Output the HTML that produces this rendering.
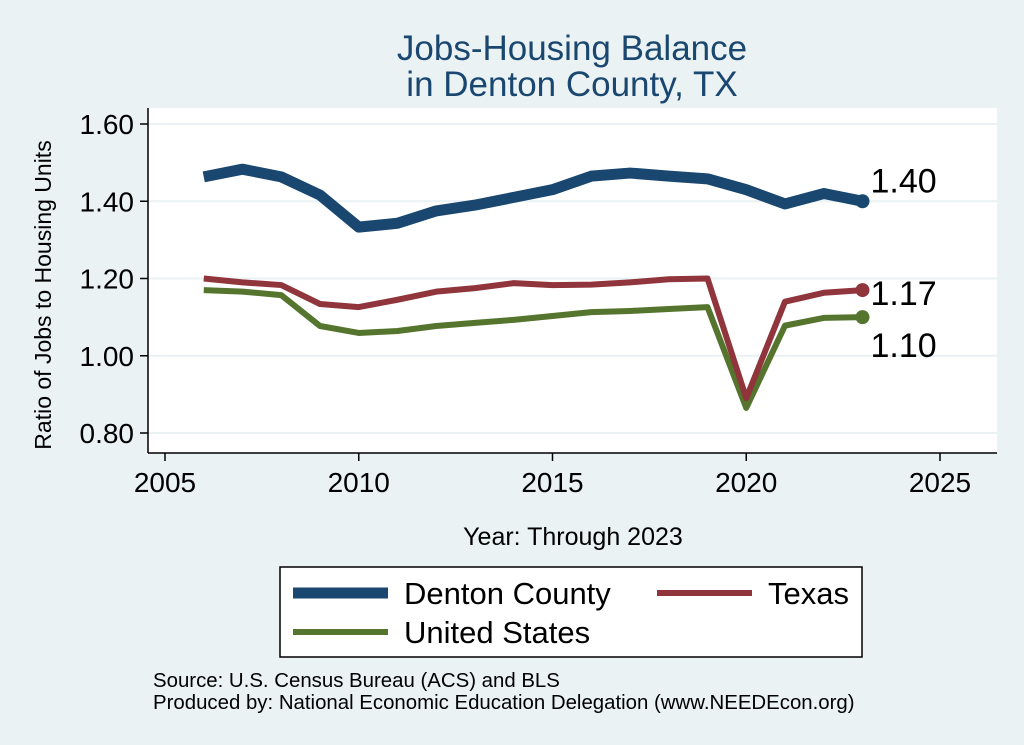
<!DOCTYPE html>
<html><head><meta charset="utf-8"><style>
body{margin:0;background:#eaf2f3;}
svg{display:block;font-family:"Liberation Sans",Arial,sans-serif;}
</style></head><body>
<svg width="1024" height="745" viewBox="0 0 1024 745">
<rect width="1024" height="745" fill="#eaf2f3"/>
<text x="572" y="60" font-size="35" fill="#1a476f" text-anchor="middle">Jobs-Housing Balance</text>
<text x="572" y="96" font-size="35" fill="#1a476f" text-anchor="middle">in Denton County, TX</text>
<rect x="148" y="108" width="849" height="345" fill="#fff"/>
<g id="grid"></g>
<g id="axes"></g>
<g id="series"></g>
<text x="573" y="545" font-size="25" text-anchor="middle">Year: Through 2023</text>
<text transform="translate(51,295) rotate(-90)" font-size="23" text-anchor="middle">Ratio of Jobs to Housing Units</text>
<g>
<rect x="280" y="567" width="582" height="90" fill="#fff" stroke="#000" stroke-width="1.5"/>
<line x1="293" y1="593" x2="388" y2="593" stroke="#1a476f" stroke-width="11"/>
<text x="404" y="604" font-size="31">Denton County</text>
<line x1="657" y1="593" x2="752" y2="593" stroke="#90353b" stroke-width="6"/>
<text x="768" y="604" font-size="31">Texas</text>
<line x1="293" y1="632" x2="388" y2="632" stroke="#55752f" stroke-width="6"/>
<text x="404" y="643" font-size="31">United States</text>
</g>
<text x="153" y="687" font-size="20.4">Source: U.S. Census Bureau (ACS) and BLS</text>
<text x="153" y="709" font-size="20.4">Produced by: National Economic Education Delegation (www.NEEDEcon.org)</text>
</svg>
<script>
const years=[2006,2007,2008,2009,2010,2011,2012,2013,2014,2015,2016,2017,2018,2019,2020,2021,2022,2023];
const denton=[1.463,1.483,1.463,1.416,1.333,1.343,1.375,1.39,1.41,1.43,1.465,1.473,1.465,1.458,1.43,1.393,1.42,1.40];
const texas=[1.20,1.19,1.183,1.134,1.126,1.145,1.166,1.175,1.188,1.183,1.184,1.19,1.198,1.20,0.89,1.14,1.163,1.17];
const us=[1.17,1.166,1.157,1.077,1.059,1.064,1.077,1.085,1.093,1.103,1.113,1.116,1.121,1.126,0.865,1.078,1.098,1.10];
const xTicks=[2005,2010,2015,2020,2025];
const yTicks=[0.8,1.0,1.2,1.4,1.6];
const NS="http://www.w3.org/2000/svg";
const X=v=>165+(v-2005)*38.75;
const Y=v=>124+(1.6-v)*386.25;
function mk(t,a,p){const e=document.createElementNS(NS,t);for(const k in a)e.setAttribute(k,a[k]);p.appendChild(e);return e;}
const grid=document.getElementById('grid'),axes=document.getElementById('axes'),ser=document.getElementById('series');
yTicks.forEach(v=>{
 const g=mk('line',{x1:148,x2:997,y1:Y(v),y2:Y(v),stroke:'#eaf2f3','stroke-width':2},grid);
 
 
 const t=mk('line',{x1:140,x2:148,y1:Y(v),y2:Y(v),stroke:'#000','stroke-width':1.5},axes);
 
 
 const l=mk('text',{x:134,y:Y(v)+10,'font-size':28,'text-anchor':'end'},axes);
 l.textContent=v.toFixed(2);
 
 
});
xTicks.forEach(v=>{
 const t=mk('line',{x1:X(v),x2:X(v),y1:453,y2:461,stroke:'#000','stroke-width':1.5},axes);
 
 
 const l=mk('text',{x:X(v),y:492,'font-size':28,'text-anchor':'middle'},axes);
 l.textContent=v;
 
 
});
const ya=mk('line',{x1:148,x2:148,y1:108,y2:453,stroke:'#000','stroke-width':1.5},axes);


const xa=mk('line',{x1:148,x2:997,y1:453,y2:453,stroke:'#000','stroke-width':1.5},axes);


function draw(vals,color,w,name,labDy){
 const pts=years.map((y,i)=>X(y)+','+Y(vals[i])).join(' ');
 const pl=mk('polyline',{points:pts,fill:'none',stroke:color,'stroke-width':w,'stroke-linejoin':'round'},ser);
 
 
 const n=years.length-1;
 const c=mk('circle',{cx:X(years[n]),cy:Y(vals[n]),r:7,fill:color},ser);
 
 
 const t=mk('text',{x:X(years[n])+8,y:Y(vals[n])+labDy,'font-size':34},ser);
 t.textContent=vals[n].toFixed(2);
 
 
}
draw(us,'#55752f',6,'us',40);
draw(texas,'#90353b',6,'texas',15);
draw(denton,'#1a476f',11,'denton',-9);
</script>
</body></html>
